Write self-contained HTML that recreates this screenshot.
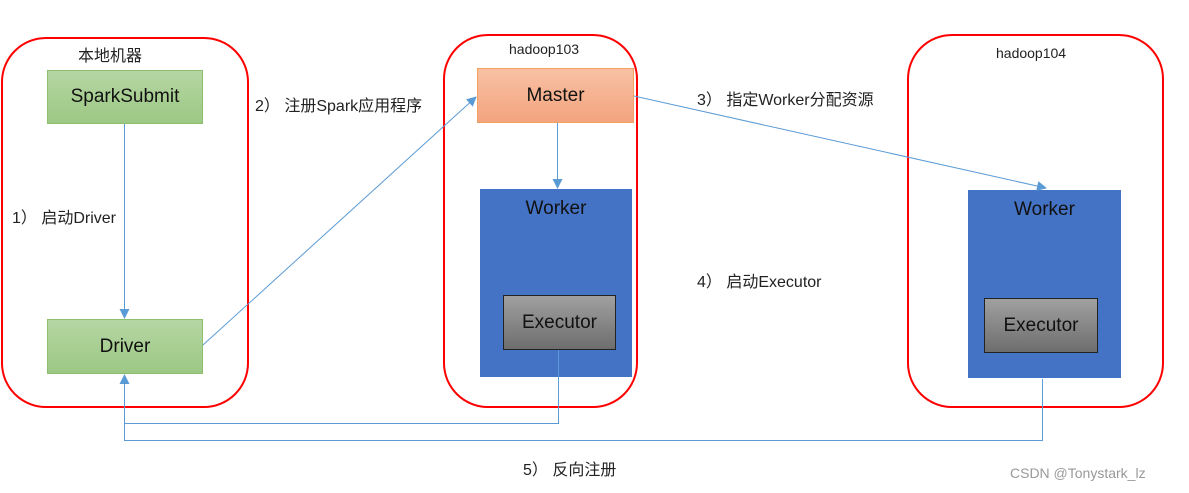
<!DOCTYPE html>
<html><head><meta charset="utf-8"><style>
body{margin:0;background:#fff;width:1189px;height:493px;overflow:hidden;position:relative;font-family:"Liberation Sans","Noto Sans CJK SC",sans-serif}
.c{position:absolute;border:2px solid #f00;border-radius:45px;box-sizing:border-box}
.b{position:absolute;box-sizing:border-box;display:flex;justify-content:center;font-size:19px;color:#111}
.t{position:absolute;font-size:16px;color:#222;white-space:nowrap}
</style></head><body>
<div class="c" style="left:1px;top:37px;width:248px;height:371px"></div>
<div class="c" style="left:443px;top:34px;width:195px;height:374px"></div>
<div class="c" style="left:907px;top:34px;width:257px;height:374px"></div>
<div class="b" style="left:47px;top:70px;width:156px;height:54px;background:linear-gradient(#b5d6a3,#9dc884);border:1px solid #8cbf6e;align-items:center">SparkSubmit</div>
<div class="b" style="left:47px;top:319px;width:156px;height:55px;background:linear-gradient(#b5d6a3,#9dc884);border:1px solid #8cbf6e;align-items:center">Driver</div>
<div class="b" style="left:477px;top:68px;width:157px;height:55px;background:linear-gradient(#f8c1a3,#f3a47f);border:1px solid #f4a060;align-items:center">Master</div>
<div class="b" style="left:480px;top:189px;width:152px;height:188px;background:#4472c4;padding-top:9px">Worker</div>
<div class="b" style="left:503px;top:295px;width:113px;height:55px;background:linear-gradient(#a0a0a0,#6e6e6e);border:1px solid #222;align-items:center">Executor</div>
<div class="b" style="left:968px;top:190px;width:153px;height:188px;background:#4472c4;padding-top:9px">Worker</div>
<div class="b" style="left:984px;top:298px;width:114px;height:55px;background:linear-gradient(#a0a0a0,#6e6e6e);border:1px solid #222;align-items:center">Executor</div>
<div class="t" style="left:78px;top:42px">本地机器</div>
<div class="t" style="left:509px;top:41px;font-size:14px">hadoop103</div>
<div class="t" style="left:996px;top:45px;font-size:14px">hadoop104</div>
<div class="t" style="left:12px;top:204px">1） 启动Driver</div>
<div class="t" style="left:255px;top:92px">2） 注册Spark应用程序</div>
<div class="t" style="left:697px;top:86px">3） 指定Worker分配资源</div>
<div class="t" style="left:697px;top:268px">4） 启动Executor</div>
<div class="t" style="left:523px;top:456px">5） 反向注册</div>
<div class="t" style="left:1010px;top:465px;color:#999;font-size:14px">CSDN @Tonystark_lz</div>
<svg width="1189" height="493" style="position:absolute;left:0;top:0">
<defs><marker id="a" markerWidth="10" markerHeight="10" refX="9" refY="5" orient="auto" markerUnits="userSpaceOnUse"><path d="M0,0L10,5L0,10z" fill="#5b9bd5"/></marker></defs>
<g stroke="#5b9bd5" stroke-width="1" fill="none">
<line x1="124.5" y1="124" x2="124.5" y2="318" marker-end="url(#a)"/>
<line x1="203" y1="345" x2="476" y2="97" marker-end="url(#a)"/>
<line x1="557.5" y1="123" x2="557.5" y2="188" marker-end="url(#a)"/>
<line x1="634" y1="96" x2="1046" y2="188" marker-end="url(#a)"/>
<polyline points="558.5,350 558.5,423.5 124.5,423.5"/>
<polyline points="1042.5,379 1042.5,440.5 124.5,440.5 124.5,375" marker-end="url(#a)"/>
</g></svg>
</body></html>
